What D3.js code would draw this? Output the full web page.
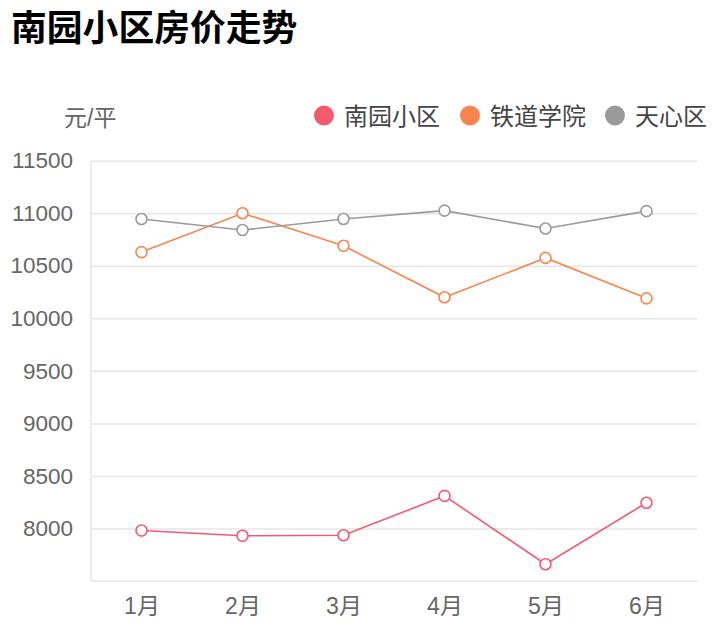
<!DOCTYPE html>
<html><head><meta charset="utf-8">
<script src="https://cdn.jsdelivr.net/npm/d3@7/dist/d3.min.js"></script>
<style>
body{margin:0;background:#fff;font-family:"Liberation Sans","Noto Sans CJK SC",sans-serif;}
</style></head>
<body><svg id="c" width="718" height="640"></svg>
<script>
const months = ["1月","2月","3月","4月","5月","6月"];
const seriesNames = ["南园小区","铁道学院","天心区"];
const nanyuan = [7980, 7930, 7935, 8310, 7660, 8245];
const tiedao = [10630, 11000, 10690, 10200, 10575, 10190];
const tianxin = [10945, 10840, 10945, 11025, 10855, 11020];
const yTicks = [8000, 8500, 9000, 9500, 10000, 10500, 11000, 11500];
const colors = ["#f25a6f", "#f9844d", "#9a9a9a"];
const seriesData = [nanyuan, tiedao, tianxin];

(function(){
const svg = d3.select("#c");
const font = '"Liberation Sans","Noto Sans CJK SC",sans-serif';
const pL = 91, pR = 697, pT = 160.7, pB = 581;

const x = d3.scalePoint().domain(months).range([pL, pR]).padding(0.5);
const y = d3.scaleLinear().domain([7500, 11500]).range([pB, pT]);

svg.append("text").attr("x", 11).attr("y", 40.5).text("南园小区房价走势")
  .attr("font-family", font).attr("font-size", 35.8).attr("font-weight", "bold").attr("fill", "#000");

svg.append("text").attr("x", 64).attr("y", 126).text("元/平")
  .attr("font-family", font).attr("font-size", 23).attr("fill", "#666");

const yAxis = d3.axisLeft(y).tickValues(yTicks).tickFormat(d3.format("d"))
  .tickSize(-(pR - pL)).tickPadding(18);
const gy = svg.append("g").attr("transform", `translate(${pL},0)`).call(yAxis);
gy.select(".domain").remove();
gy.selectAll(".tick line").attr("stroke", "#e6e6e6").attr("stroke-width", 1.5);
gy.selectAll(".tick text").attr("font-family", font).attr("font-size", 22.5).attr("fill", "#666");

svg.append("line").attr("x1", pL).attr("x2", pL).attr("y1", pT).attr("y2", pB)
  .attr("stroke", "#e6e6e6").attr("stroke-width", 1.5);
svg.append("line").attr("x1", pL).attr("x2", pR).attr("y1", pB).attr("y2", pB)
  .attr("stroke", "#e6e6e6").attr("stroke-width", 1.5);

const xAxis = d3.axisBottom(x).tickSize(0).tickPadding(17);
const gx = svg.append("g").attr("transform", `translate(0,${pB})`).call(xAxis);
gx.select(".domain").remove();
gx.selectAll(".tick text").attr("font-family", font).attr("font-size", 23).attr("fill", "#666");

const line = d3.line().x((d, i) => x(months[i])).y(d => y(d));
seriesData.forEach((s, k) => {
  svg.append("path").datum(s).attr("d", line).attr("fill", "none")
    .attr("stroke", colors[k]).attr("stroke-width", 1.6);
});
seriesData.forEach((s, k) => {
  svg.append("g").selectAll("circle").data(s).join("circle")
    .attr("cx", (d, i) => x(months[i])).attr("cy", d => y(d)).attr("r", 5.5)
    .attr("fill", "#fff").attr("stroke", colors[k]).attr("stroke-width", 1.6);
});

const legendX = [324, 470, 615];
seriesNames.forEach((n, k) => {
  svg.append("circle").attr("cx", legendX[k]).attr("cy", 115.5).attr("r", 10).attr("fill", colors[k]);
  svg.append("text").attr("x", legendX[k] + 20).attr("y", 124.5).text(n)
    .attr("font-family", font).attr("font-size", 24).attr("fill", "#444");
});
})();
</script></body></html>
